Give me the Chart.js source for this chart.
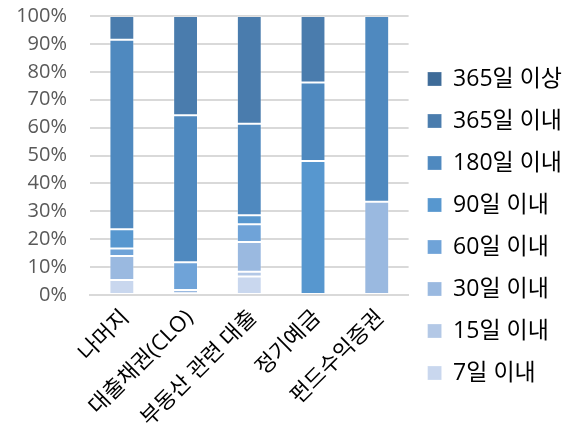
<!DOCTYPE html>
<html>
<head>
<meta charset="utf-8">
<script src="https://cdn.jsdelivr.net/npm/chart.js@4"></script>
<style>
  html, body { margin: 0; padding: 0; background: #fff; }
  #wrap { width: 579px; height: 436px; }
</style>
</head>
<body>
<div id="wrap"><canvas id="chart" width="579" height="436"></canvas></div>
<script>
// categories and series (percent of each bar)
const categories = ['나머지', '대출채권(CLO)', '부동산 관련 대출', '정기예금', '펀드수익증권'];
const seriesNames = ['7일 이내', '15일 이내', '30일 이내', '60일 이내', '90일 이내', '180일 이내', '365일 이내', '365일 이상'];
const d7 = [5.4, 0.6, 6.6, 0, 0];
const d15 = [0, 0, 1.7, 0, 0];
const d30 = [8.6, 1.2, 10.7, 0, 33.4];
const d60 = [2.7, 9.9, 6.4, 0, 0];
const d90 = [6.9, 0, 3.2, 48.0, 0];
const d180 = [67.9, 52.7, 32.8, 28.2, 66.6];
const d365 = [8.5, 35.6, 38.6, 23.8, 0];
const d365plus = [0, 0, 0, 0, 0];
const yTicks = [0, 10, 20, 30, 40, 50, 60, 70, 80, 90, 100];

const colors = ['#c9d7ee', '#b3c8e6', '#9ab9e0', '#6fa3d8', '#5797cf', '#4f89bf', '#4a7cad', '#3e6b98'];
const values = [d7, d15, d30, d60, d90, d180, d365, d365plus];

const fontFam = "'Open Sans', 'Noto Sans CJK KR', sans-serif";

const datasets = values.map((v, i) => ({
    label: seriesNames[i],
    data: v,
    backgroundColor: colors[i],
    borderColor: 'rgba(255,255,255,0.25)',
    borderWidth: 1,
    borderSkipped: false,
    barPercentage: 0.39,
    categoryPercentage: 1
}));

new Chart(document.getElementById('chart'), {
    type: 'bar',
    data: { labels: categories, datasets: datasets },
    options: {
        responsive: false,
        animation: false,
        layout: { padding: { top: 16, right: 7, left: 0, bottom: 0 } },
        plugins: {
            tooltip: { enabled: false },
            legend: {
                position: 'right',
                reverse: true,
                maxWidth: 250,
                labels: {
                    boxWidth: 14,
                    boxHeight: 14,
                    padding: 19,
                    color: '#000',
                    font: { family: fontFam, size: 23 }
                }
            }
        },
        scales: {
            x: {
                stacked: true,
                grid: { display: false, drawTicks: false },
                border: { color: '#d9d9d9', width: 2 },
                ticks: {
                    color: '#000',
                    font: { family: fontFam, size: 22 },
                    maxRotation: 45,
                    minRotation: 45,
                    autoSkip: false,
                    padding: 10,
                    labelOffset: 4
                },
                afterFit: s => {
                    s.height = 141;
                    s.paddingLeft = 0;
                    s.paddingRight = 0;
                }
            },
            y: {
                stacked: true,
                min: 0,
                max: 100,
                afterBuildTicks: s => { s.ticks = yTicks.map(v => ({ value: v })); },
                grid: { color: '#d9d9d9', lineWidth: 2, drawTicks: false },
                border: { display: false },
                ticks: {
                    color: '#595959',
                    font: { family: fontFam, size: 20 },
                    padding: 23,
                    callback: v => v + '%'
                },
                afterFit: s => {
                    s.width = 90;
                    s.paddingTop = 0;
                    s.paddingBottom = 0;
                }
            }
        }
    }
});
</script>
</body>
</html>
